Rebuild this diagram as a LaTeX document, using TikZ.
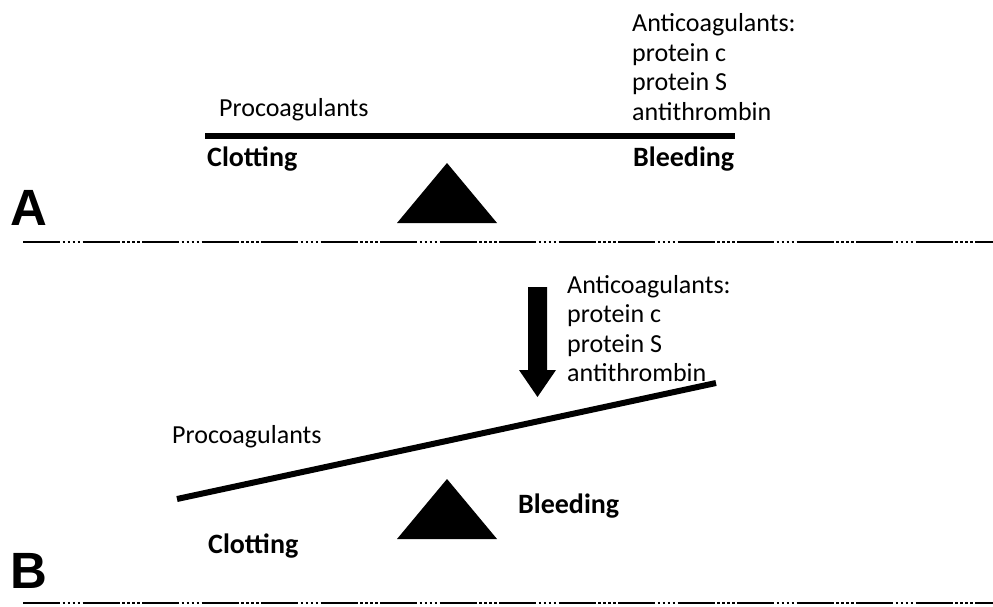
\documentclass[tikz,border=0pt]{standalone}
\usepackage{fontspec}
\setmainfont{Carlito}
\newfontfamily\panelfont{Liberation Sans}
\begin{document}
\begin{tikzpicture}[x=1pt,y=-1pt,
  lbl/.style={inner sep=0pt,anchor=base west,font=\fontsize{26}{29.5}\selectfont},
  blbl/.style={inner sep=0pt,anchor=base west,font=\fontsize{28}{30}\selectfont\bfseries},
  panel/.style={inner sep=0pt,anchor=base west,font=\fontsize{51}{51}\selectfont\panelfont\bfseries},
  bar/.style={line width=6pt},
  sep/.style={line width=1.8pt,dash pattern={on 37pt off 2.5pt on 2.5pt off 2.5pt on 2.5pt off 2.5pt on 2.5pt off 2.5pt on 2.5pt off 2.5pt}},
  fulcrum/.style={fill=black}]
\useasboundingbox (0,0) rectangle (993,607);
% ---------- Panel A ----------
\node[lbl] (procA) at (219,117) {Procoagulants};
\coordinate (barAl) at (205,136);
\coordinate (barAr) at (735,136);
\draw[bar] (barAl) -- (barAr);
\node[blbl] (clotA) at (207,166) {Clotting};
\node[blbl] (bleedA) at (633,166) {Bleeding};
\node[lbl] (antiA1) at (632,32) {Anticoagulants:};
\node[lbl] (antiA2) at (632,61.5) {protein c};
\node[lbl] (antiA3) at (632,91) {protein S};
\node[lbl] (antiA4) at (632,120.5) {antithrombin};
\fill[fulcrum] (447,163) -- (497,223) -- (397,223) -- cycle;
\node[panel] (labA) at (10,225) {A};
\coordinate (sepAl) at (23,242);
\coordinate (sepAr) at (993,242);
\draw[sep] (sepAl) -- (sepAr);
% ---------- Panel B ----------
\fill (528,287) -- (547,287) -- (547,370) -- (556,370) -- (537.5,397) -- (519,370) -- (528,370) -- cycle;
\node[lbl] (antiB1) at (567,293) {Anticoagulants:};
\node[lbl] (antiB2) at (567,322.5) {protein c};
\node[lbl] (antiB3) at (567,352) {protein S};
\node[lbl] (antiB4) at (567,381.5) {antithrombin};
\coordinate (barBl) at (177,499);
\coordinate (barBr) at (716,383);
\draw[bar] (barBl) -- (barBr);
\node[lbl] (procB) at (172,443) {Procoagulants};
\node[blbl] (clotB) at (208,553) {Clotting};
\node[blbl] (bleedB) at (518,513) {Bleeding};
\fill[fulcrum] (447,479) -- (497,539) -- (397,539) -- cycle;
\node[panel] (labB) at (10,588) {B};
\coordinate (sepBl) at (23,603);
\coordinate (sepBr) at (993,603);
\draw[sep] (sepBl) -- (sepBr);
\end{tikzpicture}
\end{document}
